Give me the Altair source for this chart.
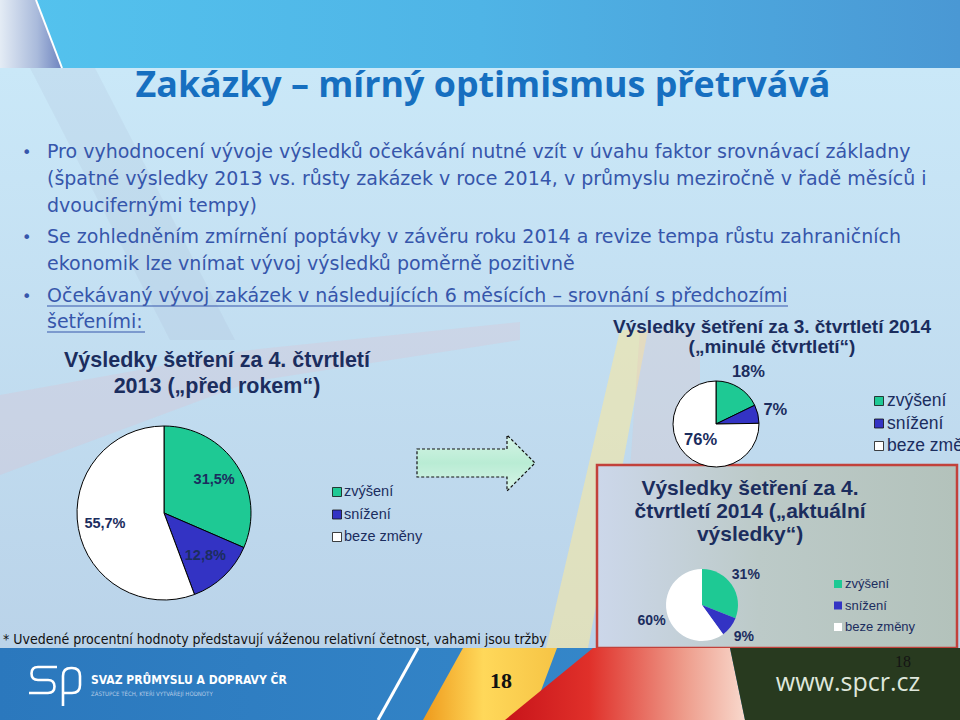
import altair as alt
import pandas as pd

# ---------------- data ----------------
categories = ["zvýšení", "snížení", "beze změny"]
slice_colors = ["#1ec994", "#3333c4", "#ffffff"]
q4_2013 = [31.5, 12.8, 55.7]   # Výsledky šetření za 4. čtvrtletí 2013
q3_2014 = [18, 7, 76]          # Výsledky šetření za 3. čtvrtletí 2014
q4_2014 = [31, 9, 60]          # Výsledky šetření za 4. čtvrtletí 2014

slide_title = "Zakázky – mírný optimismus přetrvává"
bullet_lines = [
    "Pro vyhodnocení vývoje výsledků očekávání nutné vzít v úvahu faktor srovnávací základny",
    "(špatné výsledky 2013 vs. růsty zakázek v roce 2014, v průmyslu meziročně v řadě měsíců i",
    "dvoucifernými tempy)",
    "Se zohledněním zmírnění poptávky v závěru roku 2014 a revize tempa růstu zahraničních",
    "ekonomik lze vnímat vývoj výsledků poměrně pozitivně",
    "Očekávaný vývoj zakázek v následujících 6 měsících – srovnání s předchozími",
    "šetřeními:",
]
title_2013 = ["Výsledky šetření za 4. čtvrtletí", "2013 („před rokem“)"]
title_q3 = ["Výsledky šetření za 3. čtvrtletí 2014", "(„minulé čtvrtletí“)"]
title_q4 = ["Výsledky šetření za 4.", "čtvrtletí 2014 („aktuální", "výsledky“)"]
footnote = "* Uvedené procentní hodnoty představují váženou relativní četnost, vahami jsou tržby"
page_number = "18"
org_name = "SVAZ PRŮMYSLU A DOPRAVY ČR"
org_motto = "ZÁSTUPCE TĚCH, KTEŘÍ VYTVÁŘEJÍ HODNOTY"
web = "www.spcr.cz"

NAVY = "#1b2d5e"
BLUE_TXT = "#3656ab"
ARIAL = "Liberation Sans"


def one():
    return alt.Chart(alt.Data(values=[{"a": 1}]))


def lg(stops, x2=1, y2=0):
    return alt.LinearGradient(
        gradient="linear",
        stops=[alt.GradientStop(color=c, offset=o) for o, c in stops],
        x1=0, y1=0, x2=x2, y2=y2,
    )


def txt(s, x, y, size, color, font=ARIAL, weight="normal", align="left", baseline="alphabetic"):
    return one().mark_text(
        text=s, font=font, fontSize=size, fontWeight=weight, color=color,
        align=align, baseline=baseline,
    ).encode(x=alt.value(x), y=alt.value(y))


def rect(x1, y1, x2, y2, fill, **kw):
    return one().mark_rect(fill=fill, **kw).encode(
        x=alt.value(x1), x2=alt.value(x2), y=alt.value(y1), y2=alt.value(y2)
    )


def rule(x1, y1, x2, y2, color, width):
    return one().mark_rule(color=color, strokeWidth=width).encode(
        x=alt.value(x1), x2=alt.value(x2), y=alt.value(y1), y2=alt.value(y2)
    )


def shape(cmds, fill=None, stroke=None, sw=0, dash=None, opacity=1):
    xs = [v for c in cmds for v in c[1::2]]
    ys = [v for c in cmds for v in c[2::2]]
    cx, cy = (min(xs) + max(xs)) / 2, (min(ys) + max(ys)) / 2
    r = max(max(xs) - min(xs), max(ys) - min(ys)) / 2
    parts = []
    for c in cmds:
        nums = c[1:]
        pts = [f"{(nums[i]-cx)/r:.4f} {(nums[i+1]-cy)/r:.4f}" for i in range(0, len(nums), 2)]
        parts.append(c[0] + " " + " ".join(pts))
    path = " ".join(parts)
    kw = dict(shape=path, size=4 * r * r, opacity=opacity, strokeWidth=sw)
    if fill is not None:
        kw.update(filled=True, fill=fill)
    else:
        kw.update(filled=False)
    if stroke is not None:
        kw["stroke"] = stroke
    if dash is not None:
        kw["strokeDash"] = dash
    return one().mark_point(**kw).encode(x=alt.value(cx), y=alt.value(cy))


def poly(pts, fill, **kw):
    cmds = [("M",) + tuple(pts[0])] + [("L",) + tuple(p) for p in pts[1:]] + [("Z",)]
    return shape(cmds, fill=fill, **kw)


color_enc = alt.Color("cat:N", scale=alt.Scale(domain=categories, range=slice_colors), legend=None)


def fmt(v):
    return f"{v:g}".replace(".", ",") + "%"


def pie(values, cx, cy, r, outline, lab_size, lab_r, lab_r_white=None):
    df = pd.DataFrame({"cat": categories, "value": values, "idx": [0, 1, 2],
                       "label": [fmt(v) for v in values]})
    base = alt.Chart(df)
    arc_kw = dict(stroke="#000000", strokeWidth=1) if outline else dict(strokeWidth=0)
    arc = base.mark_arc(**arc_kw).encode(
        theta=alt.Theta("value:Q", stack=True),
        order=alt.Order("idx:Q"),
        color=color_enc,
        x=alt.value(cx), y=alt.value(cy), radius=alt.value(r),
    )
    out = [arc]
    white = alt.datum.cat == "beze změny"

    def labels(radius, text):
        return base.mark_text(
            font=ARIAL, fontSize=lab_size, fontWeight="bold", color=NAVY,
            align="center", baseline="middle",
        ).encode(
            theta=alt.Theta("value:Q", stack=True),
            order=alt.Order("idx:Q"),
            text=text,
            x=alt.value(cx), y=alt.value(cy), radius=alt.value(radius),
        )

    if lab_r_white is None:
        out.append(labels(lab_r, alt.Text("label:N")))
    else:
        out.append(labels(lab_r, alt.condition(white, alt.value(""), alt.Text("label:N"))))
        out.append(labels(lab_r_white, alt.condition(white, alt.Text("label:N"), alt.value(""))))
    return out


def legend(x, y0, y1, sq, outline, tx, size, color):
    df = pd.DataFrame({"cat": categories})
    yenc = alt.Y("cat:N", scale=alt.Scale(domain=categories, range=[y0, y1], padding=0), axis=None)
    kw = dict(stroke="#111111", strokeWidth=0.8) if outline else dict(strokeWidth=0)
    squares = alt.Chart(df).mark_square(size=sq * sq, opacity=1, filled=True, **kw).encode(
        x=alt.value(x), y=yenc, color=color_enc
    )
    labels = alt.Chart(df).mark_text(
        font=ARIAL, fontSize=size, color=color, align="left", baseline="middle"
    ).encode(x=alt.value(tx), y=yenc, text="cat:N")
    return [squares, labels]


layers = []

# ---------------- background ----------------
layers.append(rect(0, 68, 960, 648, lg([(0, "#cae8f8"), (1, "#bad3e9")], x2=0, y2=1)))
layers.append(poly([(0, 395), (250, 350), (520, 322), (520, 340), (250, 382), (0, 475)],
                   "#eab6c6", opacity=0.22))
layers.append(poly([(30, 68), (95, 68), (235, 340), (170, 340)], "#9fb1c9", opacity=0.15))
layers.append(poly([(546, 648), (588, 648), (648, 330), (620, 330)], "#f6e7a2", opacity=0.6))
layers.append(poly([(640, 330), (700, 330), (700, 470), (630, 470)], "#e8c0c0", opacity=0.25))
# top band
layers.append(rect(0, 0, 960, 68, lg([(0, "#54c3ee"), (0.5, "#4fb4e6"), (1, "#4a98d4")])))
layers.append(poly([(0, 0), (36, 0), (62, 68), (0, 68)],
                   lg([(0, "#e4ecf5"), (0.6, "#a9badb"), (1, "#6d83bf")])))
layers.append(rule(36, 0, 62, 68, "#ffffff", 2))

# ---------------- title & bullets ----------------
layers.append(txt(slide_title, 483, 97, 35.8, "#166fc0", font="Open Sans", weight="bold", align="center"))

baselines = [158, 185, 212, 243, 270, 302, 328]
for line, yb in zip(bullet_lines, baselines):
    layers.append(txt(line, 47, yb, 19, BLUE_TXT, font="DejaVu Sans"))
for yb in (baselines[0], baselines[3], baselines[5]):
    layers.append(txt("•", 22, yb, 16, BLUE_TXT, font="DejaVu Sans"))
layers.append(rule(47, 306, 788, 306, BLUE_TXT, 1.2))
layers.append(rule(47, 332, 145, 332, BLUE_TXT, 1.2))

# ---------------- left pie (Q4 2013) ----------------
layers.append(txt(title_2013[0], 217, 367, 21.5, NAVY, weight="bold", align="center"))
layers.append(txt(title_2013[1], 217, 393, 21.5, NAVY, weight="bold", align="center"))
layers += pie(q4_2013, 164, 513, 87, True, 14.5, 60)
layers += legend(337, 492, 537, 9, True, 344, 14.5, NAVY)

# arrow
layers.append(poly([(417, 449), (507, 449), (507, 435), (535, 463), (507, 491), (507, 477), (417, 477)],
                   lg([(0, "#d6f4e6"), (0.5, "#b9ecd4"), (1, "#d8f4e8")], x2=0, y2=1),
                   stroke="#111111", sw=1.2, dash=[3, 2]))

# ---------------- red box (Q4 2014) ----------------
layers.append(rect(597, 465, 957, 648,
                   lg([(0, "#ccd7ea"), (0.45, "#bccac8"), (1, "#b3c2bb")]),
                   stroke="#c2413b", strokeWidth=2.5))
layers.append(txt(title_q4[0], 750, 495, 21, NAVY, weight="bold", align="center"))
layers.append(txt(title_q4[1], 750, 518, 21, NAVY, weight="bold", align="center"))
layers.append(txt(title_q4[2], 750, 541, 21, NAVY, weight="bold", align="center"))
layers += pie(q4_2014, 702, 605, 36, False, 14, 53)
layers += legend(838, 584, 627, 8, False, 845, 13, NAVY)

# ---------------- top right pie (Q3 2014) ----------------
layers.append(txt(title_q3[0], 772, 333, 19, NAVY, weight="bold", align="center"))
layers.append(txt(title_q3[1], 772, 353, 19, NAVY, weight="bold", align="center"))
layers += pie(q3_2014, 716, 424, 43, True, 16.5, 61, lab_r_white=22)
layers += legend(879, 401, 446, 9, True, 887, 17.5, NAVY)

# footnote
layers.append(txt(footnote, 3, 644, 14, "#111111", font="Liberation Sans Narrow, DejaVu Sans Condensed"))

# ---------------- footer ----------------
layers.append(rect(0, 648, 960, 720, lg([(0, "#2b78bd"), (1, "#3a8fd0")])))
layers.append(rule(418, 648, 378, 720, "#ffffff", 3))
layers.append(poly([(463, 648), (557, 648), (530, 720), (423, 720)],
                   lg([(0, "#ee9a1c"), (0.45, "#ffd85a"), (1, "#f6c445")])))
layers.append(poly([(593, 648), (730, 648), (745, 720), (505, 720)],
                   lg([(0, "#c8141a"), (0.35, "#e0302a"), (0.75, "#ee9d8c"), (1, "#f8d8cc")])))
layers.append(poly([(730, 648), (960, 648), (960, 720), (745, 720)], "#283a1f"))
# logo "sp"
layers.append(shape([
    ("M", 57, 667), ("L", 38, 667), ("Q", 31.5, 667, 31.5, 673.5), ("Q", 31.5, 680, 38, 680),
    ("L", 48, 680), ("Q", 54.5, 680, 54.5, 686.5), ("Q", 54.5, 693, 48, 693), ("L", 29, 693),
    ("M", 63, 706), ("L", 63, 676), ("Q", 63, 668, 71, 668), ("L", 72, 668),
    ("Q", 80, 668, 80, 676), ("L", 80, 685), ("Q", 80, 693, 72, 693), ("L", 63, 693),
], stroke="#ffffff", sw=2.6))
layers.append(txt(org_name, 91, 684, 12, "#ffffff", font="DejaVu Sans Condensed", weight="bold"))
layers.append(txt(org_motto, 91, 696, 6, "#b4cbe6", font="DejaVu Sans Condensed"))
layers.append(txt(page_number, 501, 688, 22, "#111111", font="Liberation Serif", weight="bold", align="center"))
layers.append(txt(web, 848, 691, 25, "#dfe7dc", font="Open Sans", align="center"))
layers.append(txt(page_number, 903, 667, 16, "#141414", font="Liberation Serif", align="center"))

chart = alt.layer(*layers).resolve_scale(
    theta="independent", y="independent"
).properties(
    width=960, height=720, padding=0,
    autosize=alt.AutoSizeParams(type="none"),
    background="#c4e0f2",
).configure_view(stroke=None)

chart.save("out.html", embed_options={"renderer": "svg", "actions": False})
